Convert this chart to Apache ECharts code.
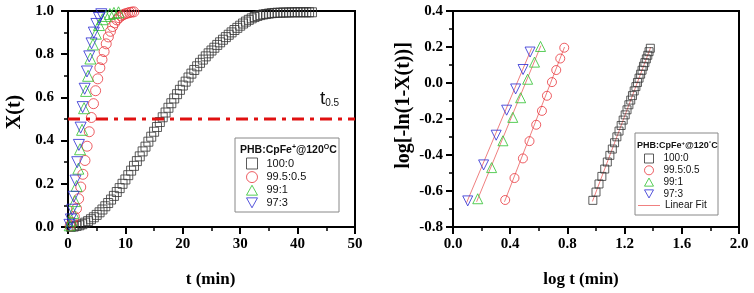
<!DOCTYPE html>
<html>
<head>
<meta charset="utf-8">
<script src="https://cdn.jsdelivr.net/npm/echarts@6/dist/echarts.min.js"></script>
<style>
  html, body { margin: 0; padding: 0; background: #fff; }
  #chart { width: 754px; height: 293px; }
</style>
</head>
<body>
<div id="chart"></div>
<script>
// X(t) vs t (min)
const t100 = [0.5,1,1.5,2,2.5,3,3.5,4,4.5,5,5.5,6,6.5,7,7.5,8,8.5,9,9.5,10,10.5,11,11.5,12,12.5,13,13.5,14,14.5,15,15.5,16,16.5,17,17.5,18,18.5,19,19.5,20,20.5,21,21.5,22,22.5,23,23.5,24,24.5,25,25.5,26,26.5,27,27.5,28,28.5,29,29.5,30,30.5,31,31.5,32,32.5,33,33.5,34,34.5,35,35.5,36,36.5,37,37.5,38,38.5,39,39.5,40,40.5,41,41.5,42,42.5];
const x100 = [0.001,0.002,0.005,0.008,0.013,0.020,0.027,0.036,0.045,0.056,
  0.068,0.081,0.096,0.111,0.127,0.144,0.162,0.180,0.200,0.220,
  0.240,0.261,0.283,0.305,0.327,0.350,0.372,0.395,0.418,0.441,
  0.463,0.486,0.508,0.530,0.552,0.573,0.595,0.615,0.635,0.655,
  0.673,0.692,0.710,0.727,0.744,0.760,0.775,0.790,0.804,0.817,
  0.830,0.843,0.855,0.867,0.879,0.890,0.901,0.912,0.922,0.932,
  0.942,0.951,0.959,0.966,0.972,0.977,0.981,0.984,0.986,0.988,
  0.990,0.991,0.992,0.992,0.993,0.993,0.993,0.994,0.994,0.994,
  0.994,0.994,0.994,0.994,0.994];
const t995 = [0.37,0.74,1.11,1.48,1.85,2.22,2.59,2.96,3.33,3.70,4.07,4.44,4.81,5.18,5.55,5.92,6.29,6.66,7.03,7.40,7.77,8.14,8.51,8.88,9.25,9.62,9.99,10.36,10.73,11.10,11.47];
const x995 = [0.005,0.021,0.048,0.085,0.131,0.185,0.244,0.308,0.374,0.441,0.507,0.571,0.631,0.686,0.737,0.775,0.812,0.848,0.880,0.906,0.928,0.945,0.959,0.969,0.977,0.983,0.987,0.990,0.993,0.995,0.996];
const t99 = [0.3,0.6,0.9,1.2,1.5,1.8,2.1,2.45,2.8,3.15,3.5,3.9,4.35,4.85,5.4,6.0,6.6,7.3,8.0,8.8];
const x99 = [0.008,0.03,0.065,0.12,0.19,0.27,0.36,0.45,0.55,0.63,0.70,0.78,0.845,0.895,0.935,0.962,0.977,0.986,0.991,0.994];
const t97 = [0.25,0.5,0.75,1.0,1.3,1.6,1.9,2.2,2.55,2.9,3.3,3.7,4.1,4.5,4.95,5.4,5.8];
const x97 = [0.01,0.035,0.08,0.14,0.215,0.30,0.38,0.46,0.555,0.64,0.72,0.79,0.85,0.90,0.94,0.968,0.985];
const halfLevel = 0.5;
const halfRange = [0, 50];

// log[-ln(1-X(t))] vs log t
const lt100 = [0.978,1.000,1.021,1.041,1.061,1.079,1.097,1.114,1.130,1.146,1.161,1.176,1.190,1.204,1.217,1.230,1.243,1.255,1.267,1.279,1.290,1.301,1.312,1.322,1.332,1.342,1.352,1.362,1.371,1.380];
const ly100 = [-0.652,-0.606,-0.561,-0.519,-0.478,-0.439,-0.402,-0.367,-0.332,-0.299,-0.267,-0.236,-0.206,-0.177,-0.149,-0.121,-0.095,-0.070,-0.044,-0.020,0.003,0.027,0.049,0.071,0.093,0.113,0.134,0.154,0.174,0.193];
const lt995 = [0.365,0.43,0.489,0.535,0.582,0.622,0.657,0.692,0.722,0.75,0.778];
const ly995 = [-0.65,-0.528,-0.419,-0.323,-0.232,-0.155,-0.071,0.005,0.072,0.136,0.196];
const lt99 = [0.173,0.27,0.349,0.418,0.473,0.522,0.57,0.612];
const ly99 = [-0.643,-0.47,-0.321,-0.191,-0.082,0.021,0.116,0.203];
const lt97 = [0.103,0.214,0.302,0.375,0.438,0.49,0.539];
const ly97 = [-0.655,-0.455,-0.29,-0.151,-0.033,0.075,0.172];

// linear fit end points [x, y]
const fit100 = [[0.975,-0.658],[1.383,0.2]];
const fit995 = [[0.36,-0.66],[0.78,0.2]];
const fit99 = [[0.165,-0.66],[0.615,0.208]];
const fit97 = [[0.095,-0.665],[0.55,0.193]];

const names = ['100:0','99.5:0.5','99:1','97:3'];

const chart = echarts.init(document.getElementById('chart'));

const serif = '"Liberation Serif", "Times New Roman", serif';
const sans = '"Liberation Sans", Arial, sans-serif';
const fitColor = '#f08080';

const pairs = (xs, ys) => xs.map((x, i) => [x, ys[i]]);

const markStyles = [
    { symbol: 'rect', color: '#333', rotate: 0, icon: 'rect' },
    { symbol: 'circle', color: '#e8363c', rotate: 0, icon: 'circle' },
    { symbol: 'triangle', color: '#2ec02e', rotate: 0, icon: 'path://M5,0 L10,9 L0,9 Z' },
    { symbol: 'triangle', color: '#2a2ad2', rotate: 180, icon: 'path://M0,0 L10,0 L5,9 Z' },
];
const leftSizes = [9, 10, 11, 11];
const rightSizes = [8, 9, 10, 10];

const scatter = (k, axis, data, size) => ({
    name: names[k],
    type: 'scatter',
    xAxisIndex: axis,
    yAxisIndex: axis,
    symbol: markStyles[k].symbol,
    symbolRotate: markStyles[k].rotate,
    symbolSize: size,
    itemStyle: { color: 'transparent', borderColor: markStyles[k].color, borderWidth: 1 },
    data: data,
    z: 3,
});

const fitLine = (data) => ({
    name: 'Linear Fit',
    type: 'line',
    xAxisIndex: 1,
    yAxisIndex: 1,
    symbol: 'none',
    lineStyle: { color: fitColor, width: 1 },
    data: data,
    z: 2,
});

const axisCommon = {
    type: 'value',
    splitLine: { show: false },
    axisLine: { show: true, onZero: false, lineStyle: { color: '#000', width: 2 } },
    axisTick: { show: true, inside: false, length: 7, lineStyle: { color: '#000', width: 2 } },
    minorTick: { show: true, splitNumber: 2, length: 4, lineStyle: { color: '#000', width: 1.5 } },
    nameLocation: 'middle',
};
const labelStyle = (margin) => ({
    fontFamily: serif, fontWeight: 'bold', fontSize: 15, color: '#000', margin: margin,
    formatter: v => v.toFixed(1),
});

// legend icons: hollow symbols like the series
const legendItems = () => names.map((n, k) => ({
    name: n,
    icon: markStyles[k].icon,
    itemStyle: { color: 'transparent', borderColor: markStyles[k].color, borderWidth: 1 },
}));

const option = {
    animation: false,
    backgroundColor: '#fff',
    grid: [
        { left: 68, right: 399, top: 11, bottom: 62, show: true, borderColor: '#000', borderWidth: 2 },
        { left: 453, right: 15, top: 11, bottom: 62, show: true, borderColor: '#000', borderWidth: 2 },
    ],
    xAxis: [
        Object.assign({}, axisCommon, {
            gridIndex: 0, min: 0, max: 50, interval: 10,
            axisLabel: Object.assign(labelStyle(10), { formatter: v => String(v) }),
            name: 't (min)', nameGap: 44,
            nameTextStyle: { fontFamily: serif, fontWeight: 'bold', fontSize: 17, color: '#000', padding: [0, 2, 0, 0] },
        }),
        Object.assign({}, axisCommon, {
            gridIndex: 1, min: 0, max: 2, interval: 0.4,
            axisLabel: labelStyle(10),
            name: 'log t (min)', nameGap: 44,
            nameTextStyle: { fontFamily: serif, fontWeight: 'bold', fontSize: 17, color: '#000', padding: [0, 30, 0, 0] },
        }),
    ],
    yAxis: [
        Object.assign({}, axisCommon, {
            gridIndex: 0, min: 0, max: 1, interval: 0.2,
            axisLabel: labelStyle(14),
            name: 'X(t)', nameGap: 43,
            nameTextStyle: { fontFamily: serif, fontWeight: 'bold', fontSize: 20, color: '#000', padding: [0, 0, 0, 14] },
        }),
        Object.assign({}, axisCommon, {
            gridIndex: 1, min: -0.8, max: 0.4, interval: 0.2,
            axisLabel: labelStyle(10),
            name: 'log[-ln(1-X(t))]', nameGap: 39,
            nameTextStyle: { fontFamily: serif, fontWeight: 'bold', fontSize: 20, color: '#000', padding: [0, 0, 0, 27] },
        }),
    ],
    legend: [
        {
            data: legendItems(),
            orient: 'vertical', selectedMode: false, padding: 0,
            left: 246, top: 157.5,
            itemWidth: 11, itemHeight: 11, itemGap: 1.6,
            textStyle: { fontFamily: sans, fontSize: 11, lineHeight: 11, color: '#111', padding: [0, 0, 0, 4] },
        },
        {
            data: legendItems(),
            orient: 'vertical', selectedMode: false, padding: 0,
            left: 644, top: 153.5,
            itemWidth: 9, itemHeight: 9, itemGap: 1.8,
            textStyle: { fontFamily: sans, fontSize: 10, lineHeight: 10, color: '#111', padding: [0, 0, 0, 5] },
        },
        {
            data: [{ name: 'Linear Fit', icon: 'path://M0,0 L22,0 L22,1 L0,1 Z', itemStyle: { color: fitColor } }],
            orient: 'vertical', selectedMode: false, padding: 0,
            left: 638, top: 200.5,
            itemWidth: 22, itemHeight: 9,
            textStyle: { fontFamily: sans, fontSize: 10, lineHeight: 10, color: '#111' },
        },
    ],
    graphic: [
        { type: 'rect', z: 1, shape: { x: 235, y: 138, width: 104, height: 74 },
          style: { fill: '#fff', stroke: '#888', lineWidth: 1 } },
        { type: 'text', z: 10, left: 240, top: 144,
          style: {
              text: '{b|PHB:CpFe}{s|+}{b|@120}{s|O}{b|C}',
              rich: {
                  b: { fontFamily: sans, fontWeight: 'bold', fontSize: 10.5, fill: '#111', lineHeight: 12 },
                  s: { fontFamily: sans, fontWeight: 'bold', fontSize: 7, fill: '#111', verticalAlign: 'top', lineHeight: 12 },
              },
          } },
        { type: 'rect', z: 1, shape: { x: 635, y: 133, width: 83, height: 82 },
          style: { fill: '#fff', stroke: '#888', lineWidth: 1 } },
        { type: 'text', z: 10, left: 637, top: 140,
          style: {
              text: '{b|PHB:CpFe}{s|+}{b|@120}{s|°}{b|C}',
              rich: {
                  b: { fontFamily: sans, fontWeight: 'bold', fontSize: 9, fill: '#111', lineHeight: 11 },
                  s: { fontFamily: sans, fontWeight: 'bold', fontSize: 6, fill: '#111', verticalAlign: 'top', lineHeight: 11 },
              },
          } },
        { type: 'text', z: 10, left: 320, top: 89,
          style: {
              text: '{t|t}{s|0.5}',
              rich: {
                  t: { fontFamily: sans, fontSize: 19, fill: '#111', lineHeight: 20 },
                  s: { fontFamily: sans, fontSize: 10, fill: '#111', verticalAlign: 'bottom', lineHeight: 20 },
              },
          } },
    ],
    series: [
        scatter(0, 0, pairs(t100, x100), leftSizes[0]),
        scatter(1, 0, pairs(t995, x995), leftSizes[1]),
        scatter(2, 0, pairs(t99, x99), leftSizes[2]),
        scatter(3, 0, pairs(t97, x97), leftSizes[3]),
        {
            name: 't0.5',
            type: 'line',
            xAxisIndex: 0,
            yAxisIndex: 0,
            symbol: 'none',
            silent: true,
            lineStyle: { color: '#e01010', width: 3, type: [12, 6, 4, 6] },
            data: halfRange.map(t => [t, halfLevel]),
            z: 4,
        },
        scatter(0, 1, pairs(lt100, ly100), rightSizes[0]),
        scatter(1, 1, pairs(lt995, ly995), rightSizes[1]),
        scatter(2, 1, pairs(lt99, ly99), rightSizes[2]),
        scatter(3, 1, pairs(lt97, ly97), rightSizes[3]),
        fitLine(fit100),
        fitLine(fit995),
        fitLine(fit99),
        fitLine(fit97),
    ],
};

chart.setOption(option);
</script>
</body>
</html>
